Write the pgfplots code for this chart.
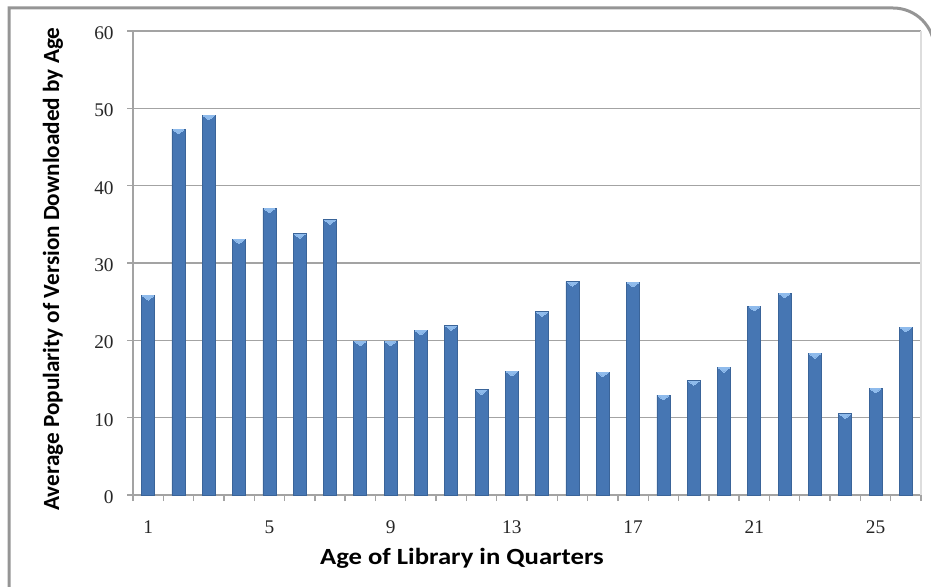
\documentclass[border=0pt]{standalone}
\usepackage{fontspec}
\setmainfont{Liberation Serif}
\newfontfamily\calib{Carlito}
\usepackage{pgfplots}
\pgfplotsset{compat=1.18}
\definecolor{barlight}{HTML}{5C91D6}
\definecolor{bardark}{HTML}{4676B3}
\definecolor{baredge}{HTML}{3A6499}
\definecolor{bartop}{HTML}{8FBBEC}
\definecolor{gridgray}{HTML}{A3A3A3}
\definecolor{lightframe}{HTML}{DDDDDD}
\definecolor{framegray}{HTML}{959595}
\begin{document}
\begin{tikzpicture}[x=0.75pt,y=0.75pt]
\begin{axis}[
  at={(99.75pt,68.25pt)}, anchor=south west,
  scale only axis, width=591pt, height=348pt,
  xmin=0.5, xmax=26.5, ymin=0, ymax=60,
  axis lines=left, axis line style={-, gridgray, line width=1.1pt},
  ytick={0,10,...,60}, minor ytick={0,10,...,60},
  xtick={1,5,...,25}, minor xtick={0.5,1.5,...,26.5},
  major tick length=0pt, minor tick length=4.5pt,
  tick align=outside,
  tick style={gridgray, line width=1pt},
  ymajorgrids, grid style={gridgray, line width=1.1pt},
  /pgf/number format/assume math mode=true,
  ticklabel style={font=\fontsize{14.5}{17}\selectfont, text=black!85},
  yticklabel style={xshift=-11pt, yshift=-1.5pt},
  xticklabel style={yshift=-15.5pt},
  xlabel={Age of Library in Quarters},
  ylabel={Average Popularity of Version Downloaded by Age},
  label style={font=\calib\bfseries\fontsize{17.4}{20}\selectfont},
  xlabel style={at={(rel axis cs:0.4175,-0.136)}, anchor=center, xscale=1.15},
  ylabel style={at={(rel axis cs:-0.1015,0.487)}, anchor=center},
  after end axis/.code={\draw[lightframe, line width=1pt] (rel axis cs:1,0) -- (rel axis cs:1,1);},
  clip=false,
]
\addplot[ybar, bar width=9.75pt, left color=bardark, middle color=barlight, right color=bardark, draw=baredge, line width=0.5pt] coordinates {
(1,25.8) (2,47.3) (3,49.1) (4,33.1) (5,37.1) (6,33.8) (7,35.6) (8,19.9) (9,19.9)
(10,21.3) (11,21.9) (12,13.6) (13,16.0) (14,23.7) (15,27.6) (16,15.9) (17,27.5)
(18,12.9) (19,14.8) (20,16.5) (21,24.4) (22,26.1) (23,18.3) (24,10.5) (25,13.8) (26,21.7)};
\addplot[only marks, mark=triangle*, mark size=4.6pt, color=bartop,
  mark options={solid, fill=bartop, draw=bartop, line width=0pt, yshift=-1.4pt, yscale=0.45, rotate=180}] coordinates {
(1,25.8) (2,47.3) (3,49.1) (4,33.1) (5,37.1) (6,33.8) (7,35.6) (8,19.9) (9,19.9)
(10,21.3) (11,21.9) (12,13.6) (13,16.0) (14,23.7) (15,27.6) (16,15.9) (17,27.5)
(18,12.9) (19,14.8) (20,16.5) (21,24.4) (22,26.1) (23,18.3) (24,10.5) (25,13.8) (26,21.7)};
\end{axis}
\draw[framegray, line width=2.25pt] (9,-30) -- (9,578) -- (893,578) .. controls (915.9,578) and (934.4,559.5) .. (934.4,536.6) -- (934.4,-30);
\pgfresetboundingbox
\useasboundingbox (0,0) rectangle (931,586);
\end{tikzpicture}
\end{document}
